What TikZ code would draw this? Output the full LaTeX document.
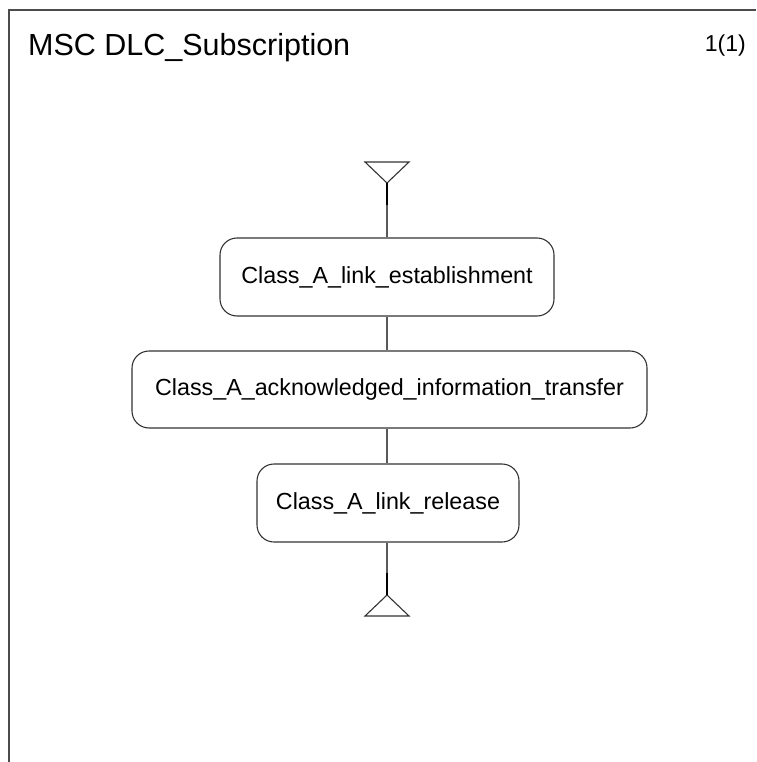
\documentclass[tikz,border=0pt]{standalone}
\usepackage{fontspec}
\setmainfont{Liberation Sans}
\begin{document}
\begin{tikzpicture}[x=1pt,y=-1pt,
  frameline/.style={draw=black!70,line width=1.4pt},
  refbox/.style={draw=black!80,line width=1.1pt,rounded corners=17pt,inner sep=0pt,
    font=\fontsize{23.3}{28}\selectfont},
  lifeline/.style={draw=black!65,line width=1.1pt},
  endline/.style={draw=black,line width=1.6pt},
  tri/.style={draw=black!80,line width=1.1pt}]
\useasboundingbox (0,0) rectangle (756,762);
% frame
\draw[frameline] (756,10) -- (9,10) -- (9,762);
\node[anchor=base west,inner sep=0pt,font=\fontsize{30.5}{36}\selectfont] (title) at (28,56) {MSC DLC\_Subscription};
\node[anchor=base east,inner sep=0pt,font=\fontsize{23}{27}\selectfont] (page) at (746,52) {1(1)};
% start triangle
\coordinate (topapex) at (387,183);
\draw[tri] (365,162) -- (409,162) -- (topapex) -- cycle;
% boxes
\node[refbox,minimum width=334pt,minimum height=78pt] (b1) at (387,277) {Class\_A\_link\_establishment};
\node[refbox,minimum width=515pt,minimum height=77pt] (b2) at (389.5,389.5) {Class\_A\_acknowledged\_information\_transfer};
\node[refbox,minimum width=262pt,minimum height=78pt] (b3) at (388,503) {Class\_A\_link\_release};
% end triangle
\coordinate (botapex) at (387,595);
\draw[tri] (365,616) -- (409,616) -- (botapex) -- cycle;
% connectors
\coordinate (topmid) at (387,205);
\coordinate (botmid) at (387,573);
\draw[endline] (topapex) -- (topmid);
\draw[lifeline] (topmid) -- (b1.north -| topmid);
\draw[lifeline] (b1.south -| topmid) -- (b2.north -| topmid);
\draw[lifeline] (b2.south -| topmid) -- (b3.north -| topmid);
\draw[lifeline] (b3.south -| botmid) -- (botmid);
\draw[endline] (botmid) -- (botapex);
\end{tikzpicture}
\end{document}
